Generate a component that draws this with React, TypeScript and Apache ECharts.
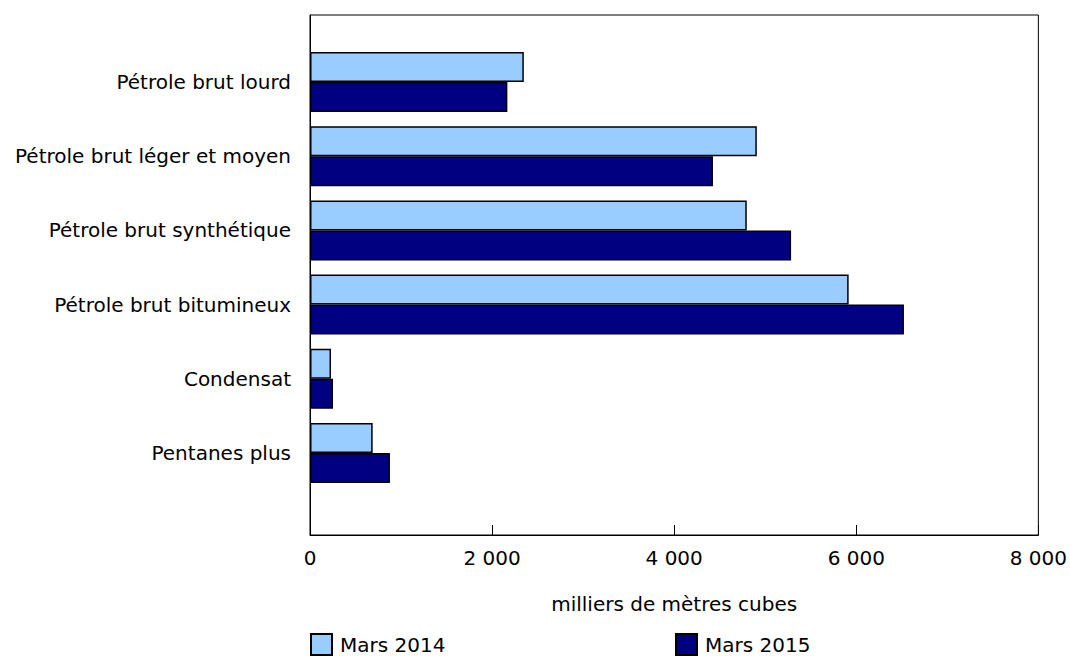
import React, { useEffect, useRef } from "react";
import * as echarts from "echarts";

const categories = [
  "Pétrole brut lourd",
  "Pétrole brut léger et moyen",
  "Pétrole brut synthétique",
  "Pétrole brut bitumineux",
  "Condensat",
  "Pentanes plus",
];
const mars2014 = [2340, 4890, 4780, 5895, 230, 686];
const mars2015 = [2160, 4410, 5265, 6500, 252, 875];
const xTicks = { min: 0, max: 8000, interval: 2000 };

const FONT = "DejaVu Sans, Verdana, sans-serif";
const FS = 20;
const LIGHT = "#99CCFF";
const DARK = "#000080";

function fmt(v: number) {
  return String(v).replace(/\B(?=(\d{3})+(?!\d))/g, " ");
}

export default function App() {
  const ref = useRef<HTMLDivElement>(null);
  useEffect(() => {
    document.body.style.margin = "0";
    if (!ref.current) return;
    const chart = echarts.init(ref.current, null, { renderer: "svg" });
    const legendBase = {
      padding: 0,
      top: 633,
      itemWidth: 21,
      itemHeight: 21,
      icon: "rect",
      textStyle: { fontFamily: FONT, fontSize: FS, color: "#000", padding: [0, 0, 0, 3] },
    };
    chart.setOption({
      animation: false,
      textStyle: { fontFamily: FONT },
      grid: [
        { left: 310, right: 29, top: 15, bottom: 121, show: true, borderColor: "#000", borderWidth: 1, backgroundColor: "transparent" },
        { left: 310, right: 29, top: 45, bottom: 166 },
      ],
      legend: [
        { ...legendBase, data: ["Mars 2014"], left: 310 },
        { ...legendBase, data: ["Mars 2015"], left: 675 },
      ],
      xAxis: [
        {
          type: "value",
          gridIndex: 0,
          min: xTicks.min,
          max: xTicks.max,
          interval: xTicks.interval,
          axisLine: { show: true, lineStyle: { color: "#000", width: 1 } },
          axisTick: { show: true, inside: true, length: 10, lineStyle: { color: "#000" } },
          splitLine: { show: false },
          axisLabel: { fontFamily: FONT, fontSize: FS, color: "#000", margin: 13, formatter: (v: number) => fmt(v) },
          name: "milliers de mètres cubes",
          nameLocation: "middle",
          nameGap: 59,
          nameTextStyle: { fontFamily: FONT, fontSize: FS, color: "#000" },
        },
        {
          type: "value",
          gridIndex: 1,
          min: xTicks.min,
          max: xTicks.max,
          interval: xTicks.interval,
          show: false,
        },
      ],
      yAxis: [
        {
          type: "value",
          gridIndex: 0,
          axisLine: { show: true, lineStyle: { color: "#000" } },
          axisTick: { show: false },
          axisLabel: { show: false },
          splitLine: { show: false },
        },
        {
          type: "category",
          gridIndex: 1,
          inverse: true,
          data: categories,
          axisLine: { show: false },
          axisTick: { show: false },
          axisLabel: { fontFamily: FONT, fontSize: FS, color: "#000", margin: 19 },
        },
      ],
      series: [
        {
          name: "Mars 2014",
          type: "bar",
          xAxisIndex: 1,
          yAxisIndex: 1,
          data: mars2014,
          barWidth: 30,
          barGap: "0%",
          itemStyle: { color: LIGHT, borderColor: "#000", borderWidth: 1.5 },
        },
        {
          name: "Mars 2015",
          type: "bar",
          xAxisIndex: 1,
          yAxisIndex: 1,
          data: mars2015,
          barWidth: 30,
          barGap: "0%",
          itemStyle: { color: DARK, borderColor: "#000", borderWidth: 1.5 },
        },
      ],
    });
    return () => chart.dispose();
  }, []);
  return <div ref={ref} style={{ width: 1070, height: 656 }} />;
}
